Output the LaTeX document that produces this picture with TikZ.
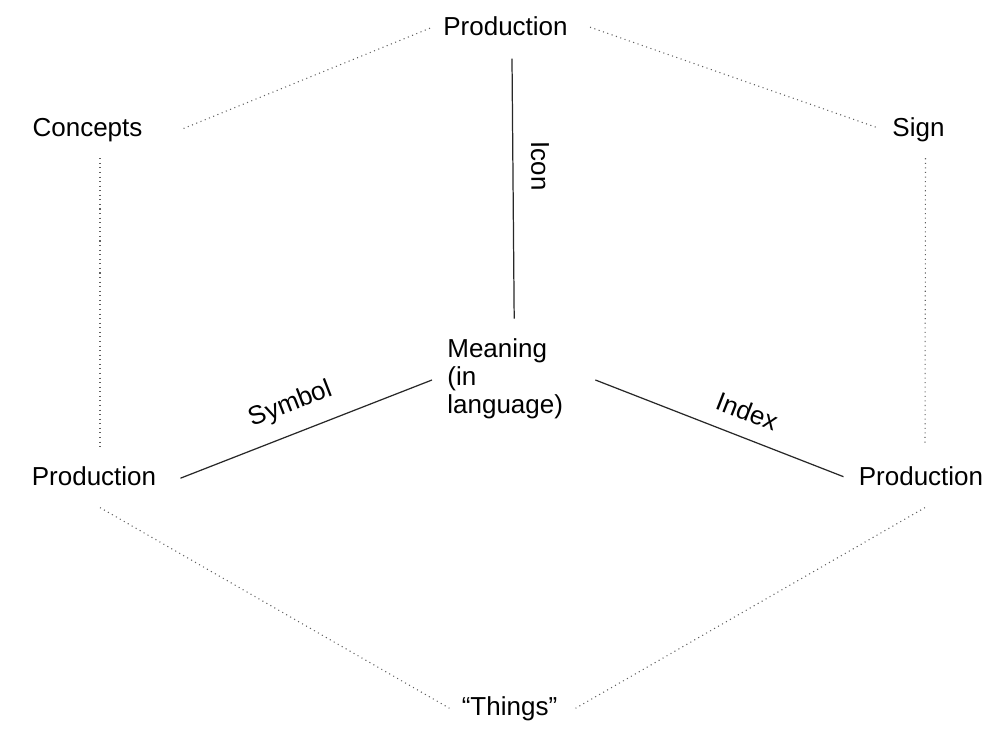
\documentclass[tikz,border=0pt]{standalone}
\usepackage{fontspec}
\setmainfont{Liberation Sans}
\usepackage{xcolor}
\definecolor{linkgray}{RGB}{40, 40, 40}
\definecolor{dotgray}{RGB}{95, 95, 95}
\usetikzlibrary{positioning, calc}

\tikzset{
  term/.style={font=\fontsize{14.8}{15.9}\selectfont, inner sep=0pt, anchor=base},
  linklabel/.style={font=\fontsize{14.8}{15.9}\selectfont, inner sep=0pt, sloped},
  solidlink/.style={draw=linkgray, line width=0.7pt},
  dotlink/.style={draw=dotgray, line width=0.6pt, dotted}
}

\begin{document}
\begin{tikzpicture}
  \useasboundingbox (0,0) rectangle (19.68,14.76);

  % Terms round the hexagon
  \node[term] (prodtop)   at (10.11,14.04) {Production};
  \node[term] (concepts)  at (1.75,12.02)  {Concepts};
  \node[term] (sign)      at (18.37,12.02) {Sign};
  \node[term] (prodleft)  at (1.88,5.04)   {Production};
  \node[term] (prodright) at (18.42,5.04)  {Production};
  \node[term] (things)    at (10.19,0.44)  {“Things”};

  % Centre
  \node[term, anchor=west, align=left] (meaning) at (8.94,7.19) {Meaning\\(in\\language)};

  % Solid links with their labels
  \draw[solidlink] ($(prodtop.south)+(0.13,-0.44)$) -- ($(meaning.north)+(0.18,0.39)$)
       node[linklabel, pos=0.415, above=10pt] (iconlbl) {Icon};
  \draw[solidlink] ($(prodleft.east)+(0.48,-0.03)$) -- ($(meaning.west)+(-0.3,-0.03)$)
       node[linklabel, pos=0.48, above=9pt] (symbollbl) {Symbol};
  \draw[solidlink] ($(meaning.east)+(0.64,-0.03)$) -- ($(prodright.west)+(-0.3,0)$)
       node[linklabel, pos=0.574, above=9pt] (indexlbl) {Index};

  % Dotted outline
  \draw[dotlink] ($(prodtop.west)+(-0.26,-0.03)$) -- ($(concepts.east)+(0.76,0.02)$);
  \draw[dotlink] ($(prodtop.east)+(0.44,-0.01)$) -- ($(sign.west)+(-0.32,0.06)$);
  \draw[dotlink] ($(concepts.south)+(0.25,-0.31)$) -- ($(prodleft.north)+(0.12,0.4)$);
  \draw[dotlink] ($(sign.south)+(0.14,-0.31)$) -- ($(prodright.north)+(0.08,0.44)$);
  \draw[dotlink] ($(prodleft.south)+(0.12,-0.42)$) -- ($(things.west)+(-0.24,0.02)$);
  \draw[dotlink] ($(prodright.south)+(0.08,-0.42)$) -- ($(things.east)+(0.36,0.02)$);
\end{tikzpicture}
\end{document}
